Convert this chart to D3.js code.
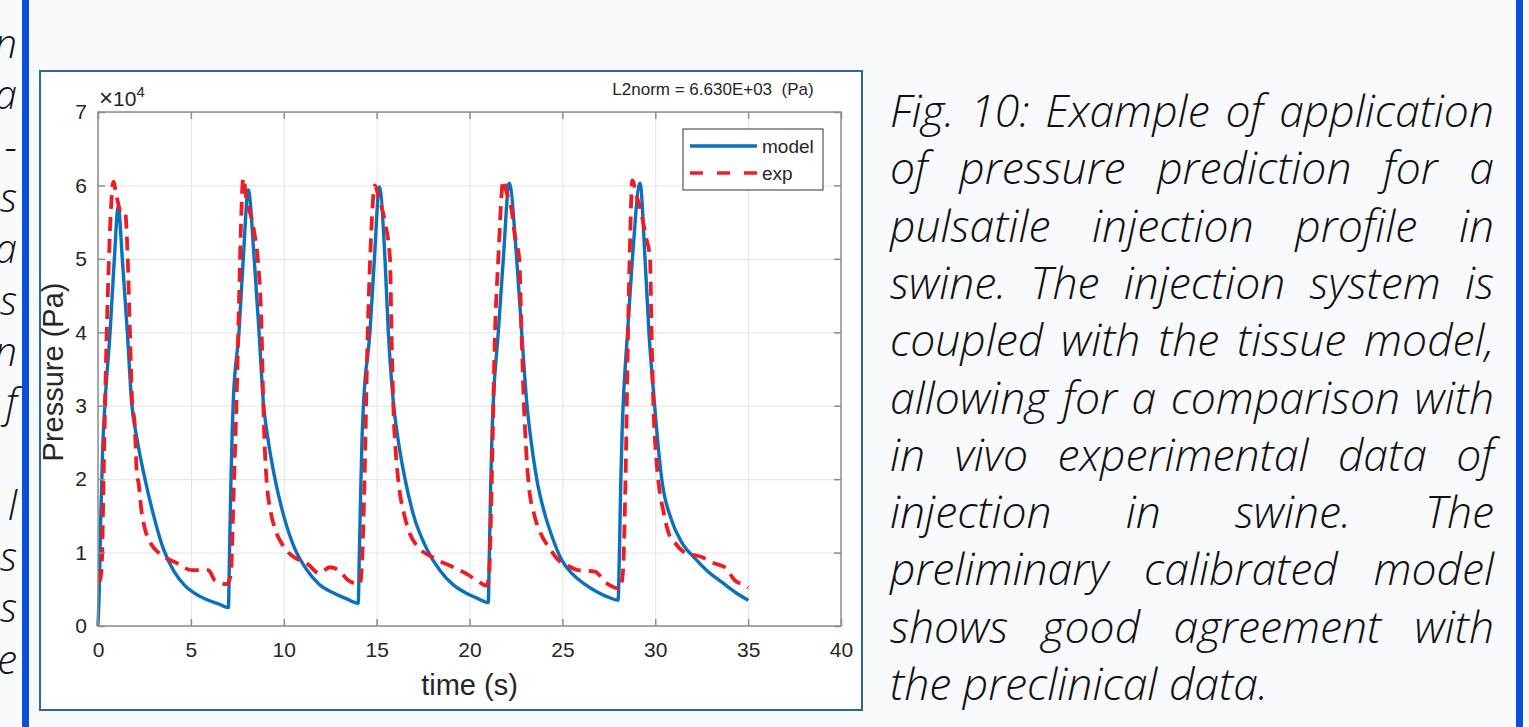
<!DOCTYPE html>
<html>
<head>
<meta charset="utf-8">
<script src="https://cdn.jsdelivr.net/npm/d3@7"></script>
<style>
  html, body { margin: 0; padding: 0; background: #f8fafe; }
  svg { display: block; }
  .tick text { font-family: "Liberation Sans", Arial, sans-serif; font-size: 21px; fill: #262626; }
  .caption { font-family: "Open Sans", sans-serif; font-style: italic; font-weight: 300; font-size: 44.5px; fill: #111; }
</style>
</head>
<body>
<svg id="fig"></svg>
<script>
// time (s) and pressure (x1e4 Pa)
var modelTime = [
  0.00, 0.08, 0.15, 0.25, 0.38, 0.65, 0.88, 1.09, 1.31, 1.58, 1.81, 2.10, 2.53, 3.00, 3.52, 4.10, 4.68, 5.30, 5.94, 6.50, 7.02,
  7.08, 7.15, 7.22, 7.28, 7.59, 7.82, 8.09, 8.41, 8.67, 8.90, 9.15, 9.53, 10.00, 10.60, 11.20, 11.90, 12.60, 13.30, 14.01,
  14.07, 14.15, 14.22, 14.30, 14.64, 14.88, 15.15, 15.45, 15.63, 15.90, 16.15, 16.53, 17.00, 17.70, 18.40, 19.13, 19.80, 20.40, 21.01,
  21.07, 21.14, 21.21, 21.28, 21.55, 21.82, 22.14, 22.54, 22.81, 23.08, 23.30, 23.62, 24.06, 24.40, 24.96, 25.50, 26.20, 26.90, 27.50, 28.00,
  28.07, 28.14, 28.21, 28.28, 28.51, 28.77, 29.18, 29.45, 29.66, 29.95, 30.12, 30.35, 30.88, 31.40, 32.14, 32.80, 33.57, 34.30, 35.01
];
var modelPressure = [
  0.00, 0.60, 1.50, 2.40, 3.05, 4.00, 5.00, 5.71, 5.00, 4.00, 3.05, 2.55, 2.00, 1.50, 1.05, 0.74, 0.55, 0.43, 0.35, 0.30, 0.25,
  1.00, 1.90, 2.60, 3.05, 4.00, 5.00, 5.94, 5.00, 4.00, 3.05, 2.55, 2.00, 1.50, 1.05, 0.78, 0.57, 0.46, 0.38, 0.31,
  1.00, 1.90, 2.60, 3.05, 4.00, 5.00, 5.98, 5.00, 4.00, 3.05, 2.55, 2.00, 1.50, 1.05, 0.76, 0.56, 0.45, 0.38, 0.32,
  1.00, 1.90, 2.60, 3.05, 4.00, 5.00, 6.03, 5.00, 4.00, 3.05, 2.55, 2.00, 1.52, 1.25, 0.90, 0.72, 0.57, 0.46, 0.39, 0.35,
  1.00, 1.90, 2.60, 3.05, 4.00, 5.00, 6.03, 5.00, 4.00, 3.05, 2.55, 2.00, 1.44, 1.15, 0.92, 0.75, 0.60, 0.46, 0.35
];
var expTime = [
  0.00, 0.10, 0.20, 0.30, 0.42, 0.55, 0.68, 0.83, 1.00, 1.22, 1.45, 1.60, 1.72, 1.85, 1.96, 2.10, 2.17, 2.35, 2.53, 2.85, 3.25, 3.70, 4.15, 4.60, 5.04, 5.50, 5.94, 6.30, 6.93,
  7.15, 7.30, 7.45, 7.60, 7.70, 7.82, 8.00, 8.27, 8.45, 8.60, 8.81, 8.90, 9.00, 9.08, 9.30, 9.53, 9.90, 10.25, 10.80, 11.30, 11.90, 12.49, 13.00, 13.48, 14.10,
  14.20, 14.35, 14.50, 14.65, 14.91, 15.10, 15.45, 15.72, 15.80, 15.90, 16.05, 16.17, 16.50, 16.80, 17.15, 18.05, 19.13, 19.85, 20.40, 20.92,
  21.05, 21.20, 21.35, 21.55, 21.82, 22.00, 22.27, 22.45, 22.68, 22.80, 22.93, 23.05, 23.17, 23.50, 23.80, 24.33, 24.78, 25.30, 25.86, 26.76, 27.30, 28.10,
  28.25, 28.40, 28.52, 28.62, 28.77, 28.95, 29.27, 29.50, 29.72, 29.80, 29.90, 30.05, 30.17, 30.45, 30.70, 31.10, 31.60, 32.50, 33.10, 33.75, 34.29, 34.83, 35.00
];
var expPressure = [
  0.60, 0.62, 0.80, 2.00, 3.50, 4.70, 5.60, 6.05, 5.85, 5.66, 5.66, 5.00, 4.00, 3.00, 2.80, 2.05, 1.97, 1.55, 1.32, 1.12, 1.00, 0.92, 0.87, 0.80, 0.76, 0.76, 0.76, 0.62, 0.57,
  0.70, 1.80, 3.00, 4.50, 5.50, 6.10, 5.80, 5.55, 5.30, 5.00, 4.00, 3.00, 2.30, 1.97, 1.55, 1.32, 1.12, 1.00, 0.90, 0.84, 0.72, 0.80, 0.75, 0.62, 0.57,
  0.80, 2.00, 3.80, 5.00, 6.00, 5.85, 5.50, 5.00, 4.00, 3.00, 2.30, 1.97, 1.50, 1.25, 1.10, 0.93, 0.80, 0.71, 0.62, 0.55,
  0.70, 2.00, 3.80, 5.00, 6.07, 5.90, 5.66, 5.30, 5.00, 4.00, 3.00, 2.40, 1.97, 1.50, 1.28, 1.05, 0.90, 0.82, 0.76, 0.74, 0.60, 0.51,
  0.70, 2.00, 3.80, 5.00, 6.07, 5.90, 5.60, 5.30, 5.00, 4.00, 3.00, 2.30, 1.97, 1.55, 1.28, 1.12, 1.00, 0.94, 0.86, 0.80, 0.62, 0.55, 0.52
];
var xTicks = [0, 5, 10, 15, 20, 25, 30, 35, 40];
var yTicks = [0, 1, 2, 3, 4, 5, 6, 7];
var seriesNames = ["model", "exp"];
var seriesColors = ["#0a72bd", "#ee1d23"];
var normText = "L2norm = 6.630E+03  (Pa)";
var captionLines = [
  "Fig. 10: Example of application",
  "of pressure prediction for a",
  "pulsatile injection profile in",
  "swine.  The injection system is",
  "coupled with the tissue model,",
  "allowing for a comparison with",
  "in vivo experimental data of",
  "injection in swine. The",
  "preliminary calibrated model",
  "shows good agreement with",
  "the preclinical data."
];
// ends of the cut-off previous column
var leftFragments = ["n", "a", "-", "s", "a", "s", "n", "f", "", "l", "s", "s", "e"];

var W = 1529, H = 727;
var svg = d3.select('#fig').attr('width', W).attr('height', H);

// side bars
svg.append('rect').attr('x', 22).attr('y', 0).attr('width', 7).attr('height', H).attr('fill', '#0b50d8');
svg.append('rect').attr('x', 1516).attr('y', 0).attr('width', 7).attr('height', H).attr('fill', '#0b50d8');

svg.append('g').selectAll('text').data(leftFragments).enter()
  .append('text')
  .attr('class', 'caption')
  .attr('x', 17)
  .attr('y', function (d, i) { return 58 + i * 51.3; })
  .attr('text-anchor', 'end')
  .style('font-size', '40px')
  .text(function (d) { return d; });

// chart frame
svg.append('rect')
  .attr('x', 40).attr('y', 71).attr('width', 822).attr('height', 639)
  .attr('fill', '#fff').attr('stroke', '#2b6a99').attr('stroke-width', 2);

var plot = { left: 98, right: 841, top: 112, bottom: 626 };
var x = d3.scaleLinear().domain([0, 40]).range([plot.left, plot.right]);
var y = d3.scaleLinear().domain([0, 7]).range([plot.bottom, plot.top]);

// grid
svg.append('g')
  .attr('transform', 'translate(0,' + plot.bottom + ')')
  .call(d3.axisBottom(x).tickValues(xTicks).tickSize(-(plot.bottom - plot.top)).tickFormat(''))
  .call(function (g) { g.select('.domain').remove(); })
  .selectAll('line').attr('stroke', '#e3e3e3');
svg.append('g')
  .attr('transform', 'translate(' + plot.left + ',0)')
  .call(d3.axisLeft(y).tickValues(yTicks).tickSize(-(plot.right - plot.left)).tickFormat(''))
  .call(function (g) { g.select('.domain').remove(); })
  .selectAll('line').attr('stroke', '#e3e3e3');

// lines
var line = d3.line()
  .x(function (d) { return x(d[0]); })
  .y(function (d) { return y(d[1]); })
  .curve(d3.curveMonotoneX);

var modelData = d3.zip(modelTime, modelPressure);
var expData = d3.zip(expTime, expPressure);

svg.append('path').datum(modelData)
  .attr('d', line).attr('fill', 'none')
  .attr('stroke', seriesColors[0]).attr('stroke-width', 3.4)
  .attr('stroke-linejoin', 'round');
svg.append('path').datum(expData)
  .attr('d', line).attr('fill', 'none')
  .attr('stroke', seriesColors[1]).attr('stroke-width', 3.8)
  .attr('stroke-dasharray', '14,8');

// axes box + ticks (MATLAB style, ticks inside)
var axisColor = '#8f8f8f';
svg.append('rect')
  .attr('x', plot.left).attr('y', plot.top)
  .attr('width', plot.right - plot.left).attr('height', plot.bottom - plot.top)
  .attr('fill', 'none').attr('stroke', axisColor).attr('stroke-width', 1.5);

var xAxis = svg.append('g')
  .attr('transform', 'translate(0,' + plot.bottom + ')')
  .call(d3.axisBottom(x).tickValues(xTicks).tickSizeInner(-7).tickSizeOuter(0).tickPadding(16));
var xTop = svg.append('g')
  .attr('transform', 'translate(0,' + plot.top + ')')
  .call(d3.axisTop(x).tickValues(xTicks).tickSizeInner(-7).tickSizeOuter(0).tickFormat(''));
var yAxis = svg.append('g')
  .attr('transform', 'translate(' + plot.left + ',0)')
  .call(d3.axisLeft(y).tickValues(yTicks).tickFormat(d3.format('d')).tickSizeInner(-7).tickSizeOuter(0).tickPadding(11));
var yRight = svg.append('g')
  .attr('transform', 'translate(' + plot.right + ',0)')
  .call(d3.axisRight(y).tickValues(yTicks).tickSizeInner(-7).tickSizeOuter(0).tickFormat(''));
[xAxis, xTop, yAxis, yRight].forEach(function (g) {
  g.select('.domain').remove();
  g.selectAll('line').attr('stroke', axisColor).attr('stroke-width', 1.5);
});

var labelFont = '"Liberation Sans", Arial, sans-serif';
// exponent
var ex = svg.append('text')
  .attr('x', 99).attr('y', 106)
  .attr('font-family', labelFont).attr('font-size', 21).attr('fill', '#262626');
ex.append('tspan').attr('font-size', 24).text('\u00d7');
ex.append('tspan').text('10');
ex.append('tspan').attr('dy', -9).attr('font-size', 15).text('4');

svg.append('text')
  .attr('x', 713).attr('y', 95)
  .attr('text-anchor', 'middle')
  .attr('font-family', labelFont).attr('font-size', 17).attr('fill', '#262626')
  .style('white-space', 'pre')
  .text(normText);

svg.append('text')
  .attr('x', x(20)).attr('y', 695)
  .attr('text-anchor', 'middle')
  .attr('font-family', labelFont).attr('font-size', 29).attr('fill', '#262626')
  .text('time (s)');
svg.append('text')
  .attr('transform', 'translate(63,' + ((plot.top + plot.bottom) / 2 + 3) + ') rotate(-90)')
  .attr('text-anchor', 'middle')
  .attr('font-family', labelFont).attr('font-size', 29).attr('fill', '#262626')
  .text('Pressure (Pa)');

// legend
var legend = svg.append('g').attr('transform', 'translate(683,129)');
legend.append('rect').attr('width', 140).attr('height', 61)
  .attr('fill', '#fff').attr('stroke', '#333').attr('stroke-width', 1);
seriesNames.forEach(function (name, i) {
  var ly = 17 + i * 27;
  legend.append('line')
    .attr('x1', 7).attr('x2', 74).attr('y1', ly).attr('y2', ly)
    .attr('stroke', seriesColors[i]).attr('stroke-width', 3.6)
    .attr('stroke-dasharray', i === 1 ? '13,14' : null);
  legend.append('text')
    .attr('x', 79).attr('y', ly + 7)
    .attr('font-family', labelFont).attr('font-size', 19).attr('fill', '#262626')
    .text(name);
});

// caption, justified by hand
var capLeft = 890, capRight = 1494, capTop = 127, capStep = 57.3;
captionLines.forEach(function (ln, i) {
  var yy = capTop + i * capStep;
  if (i === captionLines.length - 1) {
    svg.append('text').attr('class', 'caption').attr('x', capLeft).attr('y', yy).text(ln);
    return;
  }
  var words = ln.split(/\s+/);
  var nodes = words.map(function (w) {
    return svg.append('text').attr('class', 'caption').attr('y', yy).text(w);
  });
  var widths = nodes.map(function (n) { return n.node().getComputedTextLength(); });
  var gap = (capRight - capLeft - d3.sum(widths)) / (words.length - 1);
  var cx = capLeft;
  nodes.forEach(function (n, k) {
    n.attr('x', cx);
    cx += widths[k] + gap;
  });
});
</script>
</body>
</html>
